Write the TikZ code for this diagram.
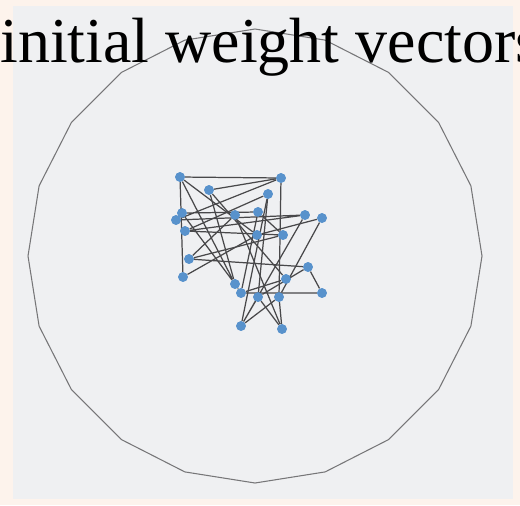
\documentclass[tikz,border=0pt]{standalone}
\usepackage{fontspec}
\setmainfont{Liberation Serif}
\usetikzlibrary{positioning}
\definecolor{paper}{RGB}{253,243,236}
\definecolor{scan}{RGB}{239,240,242}
\definecolor{dotblue}{RGB}{88,146,204}
\definecolor{wire}{RGB}{72,72,74}
\definecolor{rimgray}{RGB}{118,118,120}

\begin{document}
\begin{tikzpicture}[x=0.02cm,y=-0.02cm,
wv/.style={circle,fill=dotblue,draw=none,inner sep=0pt,minimum size=5.5pt},
link/.style={draw=wire,line width=0.7pt},
rim/.style={draw=rimgray,line width=0.6pt}]
\useasboundingbox (0,0) rectangle (520,505);
\fill[paper] (0,0) rectangle (520,505);
\fill[scan] (13,6) rectangle (513,499);
% the disc
\draw[rim,shift={(255,256)}] (0:227) \foreach \k in {1,...,19} { -- (\k*18:227) } -- cycle;
% weight vectors
\node[wv] (W1) at (180,177) {};
\node[wv] (W2) at (209,190) {};
\node[wv] (W3) at (281,178) {};
\node[wv] (W4) at (268,194) {};
\node[wv] (W5) at (182,213) {};
\node[wv] (W6) at (176,220) {};
\node[wv] (W7) at (235,215) {};
\node[wv] (W8) at (258,212) {};
\node[wv] (W9) at (305,215) {};
\node[wv] (W10) at (322,218) {};
\node[wv] (W11) at (185,231) {};
\node[wv] (W12) at (257,235) {};
\node[wv] (W13) at (283,235) {};
\node[wv] (W14) at (189,259) {};
\node[wv] (W15) at (183,277) {};
\node[wv] (W16) at (308,267) {};
\node[wv] (W17) at (286,279) {};
\node[wv] (W18) at (235,284) {};
\node[wv] (W19) at (241,293) {};
\node[wv] (W20) at (258,297) {};
\node[wv] (W21) at (279,297) {};
\node[wv] (W22) at (322,293) {};
\node[wv] (W23) at (241,326) {};
\node[wv] (W24) at (282,329) {};
\draw[link] (W15)--(W1)--(W3)--(W6)--(W9)--(W11)--(W13)--(W14)--(W16)--(W22)--(W19)--(W8)--(W5)--(W18)--(W1);
\draw[link] (W15)--(W12)--(W10)--(W21)--(W24)--(W7)--(W14);
\draw[link] (W3)--(W21)--(W23)--(W4)--(W11);
\draw[link] (W3)--(W2)--(W17)--(W19)--(W18)--(W2);
\draw[link] (W9)--(W23)--(W20)--(W16);
\draw[link] (W1)--(W12);
\draw[link] (W8)--(W13);
\draw[link] (W4)--(W20)--(W24);
% redraw dots on top
\foreach \n in {1,...,24} {\fill[dotblue] (W\n) circle (2.75pt);}
\node[anchor=base west,inner sep=0pt] (title) at (0,62)
  {\fontsize{36.4}{42}\selectfont initial weight vectors};
\end{tikzpicture}
\end{document}
